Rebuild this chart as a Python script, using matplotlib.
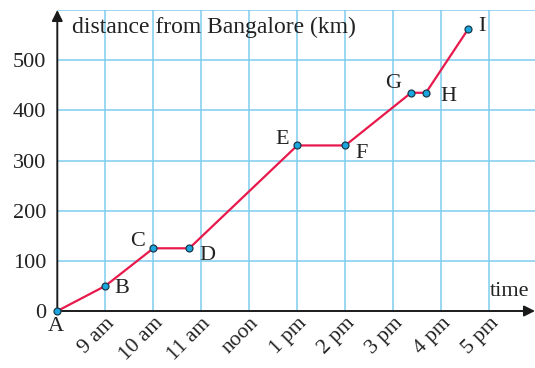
#!/usr/bin/env python

import matplotlib.pyplot as plt

# hours after midnight (8 = 8 am) and distance in km
point_names = ['A', 'B', 'C', 'D', 'E', 'F', 'G', 'H', 'I']
hours = [8, 9, 10, 10.75, 13, 14, 15.37, 15.68, 16.56]
distance = [0, 50, 125, 125, 330, 330, 435, 435, 562]

tick_hours = [9, 10, 11, 12, 13, 14, 15, 16, 17]
tick_labels = ['9 am', '10 am', '11 am', 'noon', '1 pm', '2 pm', '3 pm', '4 pm', '5 pm']
y_ticks = [0, 100, 200, 300, 400, 500]

# label offsets in points (dx, dy)
label_offsets = {
    'A': (-1, -11), 'B': (12, -2), 'C': (-11, 5), 'D': (13, -5),
    'E': (-11, 4), 'F': (12, -6), 'G': (-13, 7), 'H': (16, -3), 'I': (10, 1.5),
}

GRID = '#7fcdee'
LINE = '#e8194c'
MARKER = '#1ba6e0'

plt.rcParams['font.family'] = ['Liberation Serif', 'DejaVu Serif']

fig = plt.figure(figsize=(5.35, 3.68), dpi=100)
ax = fig.add_axes([57.3 / 535, 57 / 368, (535 - 57.3) / 535, 301 / 368])
ax.set_xlim(8, 8 + (535 - 57.3) / 48)
ax.set_ylim(0, 600)

for h in tick_hours:
    ax.axvline(h, color=GRID, lw=1.1, zorder=1)
for y in [100, 200, 300, 400, 500, 600]:
    ax.axhline(y, color=GRID, lw=1.1, zorder=1)

for s in ax.spines.values():
    s.set_visible(False)

# axes with arrows
ax.annotate('', xy=(1.0, 0), xytext=(0, 0), xycoords='axes fraction',
            arrowprops=dict(arrowstyle='-|>', color='#1a1a1a', lw=1.4,
                            mutation_scale=16, shrinkA=0, shrinkB=0), zorder=3)
ax.annotate('', xy=(0, 1.0), xytext=(0, 0), xycoords='axes fraction',
            arrowprops=dict(arrowstyle='-|>', color='#1a1a1a', lw=1.4,
                            mutation_scale=16, shrinkA=0, shrinkB=0), zorder=3)

ax.plot(hours, distance, color=LINE, lw=1.6, zorder=4, clip_on=False)
ax.plot(hours, distance, 'o', ms=5, mfc=MARKER, mec='#1a3a4a', mew=0.9,
        zorder=5, clip_on=False)

for name, h, d in zip(point_names, hours, distance):
    ax.annotate(name, (h, d), xytext=label_offsets[name], textcoords='offset points',
                ha='center', va='center', fontsize=16, color='#222222')

ax.set_xticks(tick_hours)
ax.set_xticklabels(tick_labels, rotation=45, ha='right', va='top',
                   rotation_mode='anchor', fontsize=15.5, color='#222222')
ax.set_yticks(y_ticks)
ax.set_yticklabels([str(v) for v in y_ticks], fontsize=16, color='#222222')
ax.tick_params(axis='both', length=0)
ax.tick_params(axis='y', pad=8)
ax.tick_params(axis='x', pad=2)

ax.text(8.31, 566, 'distance from Bangalore (km)', fontsize=17,
        ha='left', va='center', color='#222222')
ax.text(17.43, 38, 'time', fontsize=16, ha='center', va='center', color='#222222')

fig.savefig('out.png', dpi=100)
